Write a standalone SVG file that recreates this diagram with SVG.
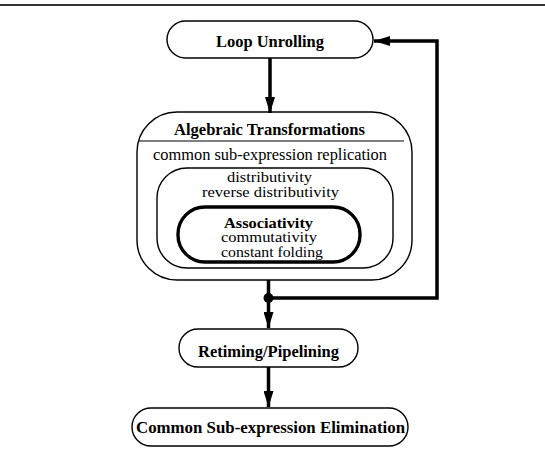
<svg xmlns="http://www.w3.org/2000/svg" width="545" height="458" viewBox="0 0 545 458">
<style>
.box{fill:none;stroke:#000;stroke-width:1.4}
.bold{fill:none;stroke:#000;stroke-width:3.4}
.t{font-family:"Liberation Serif",serif;font-size:16px;text-anchor:middle;fill:#000}
.m{font-size:15px}
.s{font-size:14px}
.b{font-weight:bold}
.c{fill:none;stroke:#000;stroke-width:3.5}
</style>
<defs>
<marker id="ah" viewBox="0 0 16 10" refX="16" refY="5" markerWidth="16" markerHeight="10" markerUnits="userSpaceOnUse" orient="auto">
<path d="M0,0 L16,5 L0,10 Z" fill="#000"/>
</marker>
</defs>
<line x1="0" y1="5" x2="545" y2="5" stroke="#333" stroke-width="1.8"/>
<g id="loop-unrolling">
<rect class="box" x="167" y="21" width="206" height="37" rx="18.5"/>
<text class="t b" x="270" y="47" textLength="108" lengthAdjust="spacingAndGlyphs">Loop Unrolling</text>
</g>
<g id="algebraic-transformations">
<rect class="box" x="137" y="112" width="275" height="168" rx="40"/>
<line x1="138" y1="141" x2="404" y2="141" stroke="#000" stroke-width="1.2"/>
<text class="t b" x="269.5" y="135" textLength="191" lengthAdjust="spacingAndGlyphs">Algebraic Transformations</text>
<text class="t" x="270" y="160" textLength="234" lengthAdjust="spacingAndGlyphs">common sub-expression replication</text>
</g>
<g id="distributivity">
<rect class="box" x="157" y="168" width="236" height="100" rx="30"/>
<text class="t m" x="269.5" y="182" textLength="85" lengthAdjust="spacingAndGlyphs">distributivity</text>
<text class="t m" x="270.5" y="197" textLength="137" lengthAdjust="spacingAndGlyphs">reverse distributivity</text>
</g>
<g id="associativity">
<rect class="bold" x="178" y="207" width="182" height="55" rx="27"/>
<text class="t s b" x="268.5" y="228" textLength="89" lengthAdjust="spacingAndGlyphs">Associativity</text>
<text class="t s" x="269" y="242" textLength="96" lengthAdjust="spacingAndGlyphs">commutativity</text>
<text class="t s" x="272" y="256.5" textLength="102" lengthAdjust="spacingAndGlyphs">constant folding</text>
</g>
<g id="retiming">
<rect class="box" x="179" y="329" width="179" height="38" rx="19"/>
<text class="t b" x="268.5" y="357" textLength="141" lengthAdjust="spacingAndGlyphs">Retiming/Pipelining</text>
</g>
<g id="cse">
<rect class="box" x="132" y="408" width="276" height="38" rx="19"/>
<text class="t b" x="270.5" y="433" textLength="269" lengthAdjust="spacingAndGlyphs">Common Sub-expression Elimination</text>
</g>
<g id="connectors">
<line class="c" x1="270" y1="58" x2="270" y2="113" marker-end="url(#ah)"/>
<line class="c" x1="268.5" y1="280" x2="268.5" y2="328" marker-end="url(#ah)"/>
<line class="c" x1="268.5" y1="367" x2="268.5" y2="407" marker-end="url(#ah)"/>
<polyline class="c" points="268.5,298 437,298 437,41 374,41" marker-end="url(#ah)"/>
<circle cx="268.5" cy="298" r="5" fill="#000"/>
</g>
</svg>
